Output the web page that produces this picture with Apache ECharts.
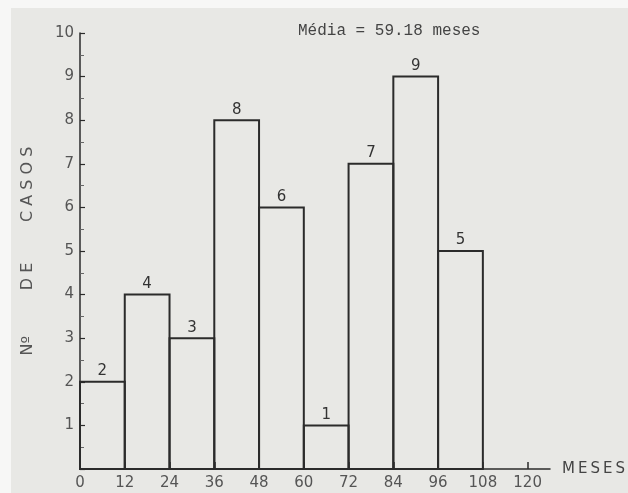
<!DOCTYPE html>
<html>
<head>
<meta charset="utf-8">
<script src="https://cdn.jsdelivr.net/npm/echarts@6/dist/echarts.min.js"></script>
<style>
  html, body { margin: 0; padding: 0; background: #f7f7f6; }
  #main { position: absolute; left: 0; top: 0; width: 628px; height: 493px; }
  #paper { position: absolute; left: 11px; top: 8px; width: 617px; height: 485px; background: #e8e8e5; }
</style>
</head>
<body>
	<div id="paper"></div>
	<div id="main"></div>
	<script type="text/javascript">
		// bins of the histogram (months) and number of cases
		var binStart = [0, 12, 24, 36, 48, 60, 72, 84, 96];
		var binEnd   = [12, 24, 36, 48, 60, 72, 84, 96, 108];
		var casos    = [2, 4, 3, 8, 6, 1, 7, 9, 5];
		var xTicks   = [0, 12, 24, 36, 48, 60, 72, 84, 96, 108, 120];

		var data = [];
		for (var i = 0; i < casos.length; i++) {
			data.push([binStart[i], binEnd[i], casos[i]]);
		}

		var ink = '#2b2b2b';
		var labelFont = 'DejaVu Sans';

		var myChart = echarts.init(document.getElementById('main'), null, { renderer: 'canvas' });

		var option = {
			backgroundColor: 'transparent',
			animation: false,
			title: {
				text: 'Média = 59.18 meses',
				left: 293,
				top: 18,
				textStyle: { fontFamily: 'Liberation Mono', fontSize: 16, fontWeight: 'normal', color: '#444' }
			},
			grid: { left: 80, top: 33, right: 78, bottom: 24, outerBoundsMode: 'none' },
			xAxis: {
				type: 'value',
				min: 0,
				max: 126,
				name: 'M\u2009E\u2009S\u2009E\u2009S',
				nameLocation: 'end',
				nameGap: 12,
				nameTextStyle: { fontFamily: labelFont, fontSize: 15, color: '#444', verticalAlign: 'middle' },
				splitLine: { show: false },
				axisLine: { lineStyle: { color: ink, width: 1.5 } },
				axisTick: { inside: true, length: 7, customValues: xTicks, lineStyle: { color: ink, width: 1.5 } },
				axisLabel: { customValues: xTicks, margin: 7, fontFamily: labelFont, fontSize: 15, color: '#555' }
			},
			yAxis: {
				type: 'value',
				min: 0,
				max: 10,
				interval: 1,
				name: 'Nº         D E        C A S O S',
				nameLocation: 'middle',
				nameGap: 44,
				nameRotate: 90,
				nameTextStyle: { fontFamily: labelFont, fontSize: 16, color: '#555' },
				splitLine: { show: false },
				axisLine: { show: true, lineStyle: { color: ink, width: 1.5 } },
				axisTick: { inside: true, length: 5, lineStyle: { color: ink, width: 1.2 } },
				minorTick: { show: true, splitNumber: 2, length: 4, lineStyle: { color: '#666', width: 1 } },
				axisLabel: {
					margin: 6, fontFamily: labelFont, fontSize: 15, color: '#555',
					formatter: function (v) { return v === 0 ? '' : String(v); }
				}
			},
			series: [{
				type: 'custom',
				data: data,
				encode: { x: [0, 1], y: 2 },
				renderItem: function (params, api) {
					var p0 = api.coord([api.value(0), api.value(2)]);
					var p1 = api.coord([api.value(1), 0]);
					return {
						type: 'group',
						children: [{
							type: 'rect',
							shape: { x: p0[0], y: p0[1], width: p1[0] - p0[0], height: p1[1] - p0[1] },
							style: { fill: 'none', stroke: ink, lineWidth: 2 }
						}, {
							type: 'text',
							x: (p0[0] + p1[0]) / 2,
							y: p0[1] - 3,
							style: {
								text: String(api.value(2)),
								align: 'center',
								verticalAlign: 'bottom',
								fontFamily: labelFont,
								fontSize: 15,
								fill: '#333'
							}
						}]
					};
				}
			}]
		};

		myChart.setOption(option);
	</script>
</body>
</html>
